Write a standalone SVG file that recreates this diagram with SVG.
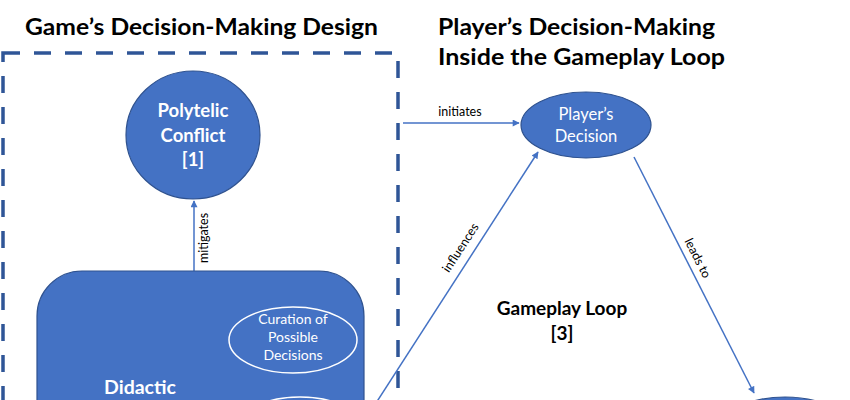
<svg xmlns="http://www.w3.org/2000/svg" width="850" height="400" viewBox="0 0 850 400">
<style>
.title{font-family:Lato,"Liberation Sans",sans-serif;font-weight:bold;font-size:23px;fill:#000}
.node{fill:#4472C4;stroke:#2F528F;stroke-width:1.2}
.inner{fill:none;stroke:#fff;stroke-width:1.5}
.wb{font-family:Lato,"Liberation Sans",sans-serif;font-weight:bold;fill:#fff;text-anchor:middle}
.w{font-family:Lato,"Liberation Sans",sans-serif;fill:#fff;text-anchor:middle}
.lbl{font-family:Lato,"Liberation Sans",sans-serif;font-size:12.5px;fill:#000;text-anchor:middle}
.conn{stroke:#4472C4;stroke-width:1.5;fill:none;marker-end:url(#ah)}
.bk{font-family:Lato,"Liberation Sans",sans-serif;font-weight:bold;font-size:19px;fill:#000;text-anchor:middle}
</style>
<defs>
<marker id="ah" viewBox="0 0 10 10" refX="9" refY="5" markerWidth="8" markerHeight="7" orient="auto" markerUnits="userSpaceOnUse">
<path d="M0,0 L10,5 L0,10 z" fill="#4472C4"/>
</marker>
</defs>
<text class="title" x="25" y="35" textLength="353" lengthAdjust="spacingAndGlyphs">Game’s Decision-Making Design</text>
<text class="title" x="438" y="35" textLength="277" lengthAdjust="spacingAndGlyphs">Player’s Decision-Making</text>
<text class="title" x="438" y="65" textLength="287" lengthAdjust="spacingAndGlyphs">Inside the Gameplay Loop</text>
<g id="design-box">
<rect x="3" y="53" width="395" height="400" fill="none" stroke="#2F5597" stroke-width="3.5" stroke-dasharray="17,14"/>
</g>
<g id="connectors">
<line class="conn" x1="194" y1="271" x2="194" y2="201"/>
<text class="lbl" transform="translate(208,238) rotate(-90)">mitigates</text>
<line class="conn" x1="403" y1="123" x2="519" y2="123"/>
<text class="lbl" x="460" y="116">initiates</text>
<line class="conn" x1="367" y1="417" x2="538" y2="152"/>
<text class="lbl" transform="translate(464,250) rotate(-57)">influences</text>
<line class="conn" x1="634" y1="157" x2="754" y2="393"/>
<text class="lbl" transform="translate(694,260) rotate(63)">leads to</text>
</g>
<g id="polytelic">
<ellipse class="node" cx="193" cy="135" rx="67" ry="64"/>
<text class="wb" x="193" y="117" font-size="18.5">Polytelic</text>
<text class="wb" x="193" y="142" font-size="18.5">Conflict</text>
<text class="wb" x="193" y="166" font-size="18.5">[1]</text>
</g>
<g id="didactic">
<rect class="node" x="37" y="271" width="327" height="200" rx="45" ry="45"/>
<text class="wb" x="140" y="394" font-size="19.5">Didactic</text>
</g>
<g id="curation">
<ellipse class="inner" cx="293" cy="340" rx="64" ry="33"/>
<text class="w" x="293" y="324" font-size="14">Curation of</text>
<text class="w" x="293" y="342" font-size="14">Possible</text>
<text class="w" x="293" y="360" font-size="14">Decisions</text>
</g>
<g id="second-inner">
<ellipse class="inner" cx="300" cy="430" rx="64" ry="33"/>
</g>
<g id="players-decision">
<ellipse class="node" cx="586" cy="125" rx="65" ry="33"/>
<text class="w" x="586" y="120" font-size="16.5">Player’s</text>
<text class="w" x="586" y="142" font-size="16.5">Decision</text>
</g>
<g id="gameplay-loop">
<text class="bk" x="562" y="315">Gameplay Loop</text>
<text class="bk" x="562" y="340">[3]</text>
</g>
<g id="outcome">
<ellipse class="node" cx="785" cy="430" rx="65" ry="33"/>
</g>
</svg>
